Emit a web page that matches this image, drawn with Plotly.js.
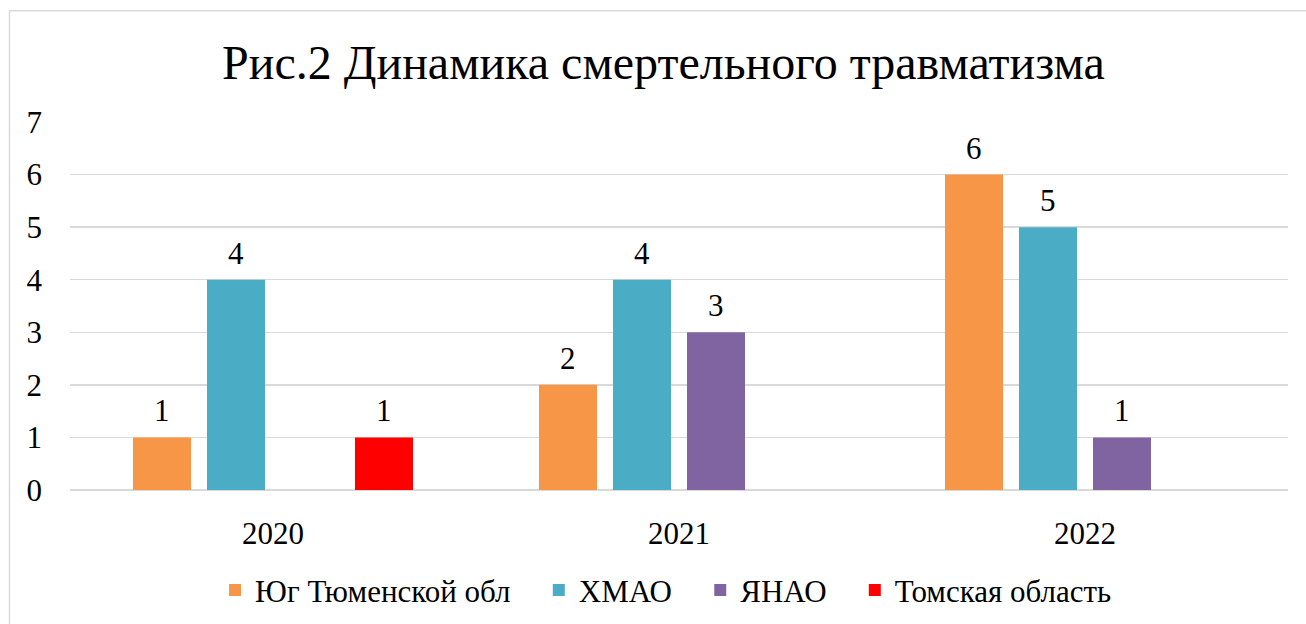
<!DOCTYPE html>
<html>
<head>
<meta charset="utf-8">
<script src="https://cdn.plot.ly/plotly-3.0.1.min.js"></script>
<style>
html,body{margin:0;padding:0;background:#fff;}
#chart{width:1306px;height:624px;}
</style>
</head>
<body>
<div id="chart"></div>
<script>
const categories = ["2020", "2021", "2022"];
const seriesNames = ["Юг Тюменской обл", "ХМАО", "ЯНАО", "Томская область"];
const yugTyumen = [1, 2, 6];
const hmao = [4, 4, 5];
const yanao = [null, 3, 1];
const tomsk = [1, null, null];
const colors = ["#F79646", "#4BACC6", "#8064A2", "#FF0000"];
const yTicks = [0, 1, 2, 3, 4, 5, 6, 7];

const FONT = "Liberation Serif";
const allValues = [yugTyumen, hmao, yanao, tomsk];
const NB = "\u00a0\u00a0\u00a0";

const traces = allValues.map((vals, i) => ({
  type: "bar",
  name: seriesNames[i] + (i < seriesNames.length - 1 ? NB : ""),
  x: categories,
  y: vals,
  marker: {color: colors[i]},
  hoverinfo: "skip"
}));

// data labels, placed from the data values, shifted to each bar's slot in the group
const slotPx = 74;
const annotations = [];
allValues.forEach((vals, i) => {
  vals.forEach((v, j) => {
    if (v === null) return;
    annotations.push({
      x: j, y: v, xref: "x", yref: "y",
      text: String(v), showarrow: false,
      xanchor: "center", yanchor: "bottom",
      xshift: (i - (allValues.length - 1) / 2) * slotPx, yshift: 7,
      font: {family: FONT, size: 31, color: "#000"}
    });
  });
});

const W = 1306, H = 624, ml = 70, mr = 18, mt = 122, mb = 133.5;
const pw = W - ml - mr, ph = H - mt - mb;
const bx = (9.5 - ml) / pw;
const by = (H - mb - 10.5) / ph;

const layout = {
  width: W, height: H,
  margin: {l: ml, r: mr, t: mt, b: mb, pad: 0},
  paper_bgcolor: "#fff", plot_bgcolor: "#fff",
  font: {family: FONT, color: "#000", size: 31},
  title: {text: "Рис.2 Динамика смертельного травматизма", font: {family: FONT, size: 48, color: "#000"}, x: 0.508, xanchor: "center", y: 0.9, yanchor: "middle"},
  barmode: "group",
  bargap: 0.271,
  bargroupgap: 0.216,
  showlegend: true,
  legend: {orientation: "h", xref: "container", yref: "container", x: 0.51, xanchor: "center", y: 0.054, yanchor: "middle", font: {family: FONT, size: 31, color: "#000"}, itemclick: false, traceorder: "normal"},
  xaxis: {type: "category", range: [-0.5, categories.length - 0.5], autorange: false, automargin: false, showgrid: false, showline: false, ticks: "", tickfont: {family: FONT, size: 31, color: "#000"}, ticklabelstandoff: 22, zeroline: false},
  yaxis: {range: [0, 7], autorange: false, automargin: false, tickvals: yTicks, showgrid: true, gridcolor: "#d9d9d9", gridwidth: 1.5, zeroline: true, zerolinecolor: "#d9d9d9", zerolinewidth: 1.5, showline: false, ticks: "", tickfont: {family: FONT, size: 31, color: "#000"}, ticklabelstandoff: 27},
  annotations: annotations,
  shapes: [
    {type: "path", xref: "paper", yref: "paper", path: `M ${bx} -0.5 L ${bx} ${by} L 1.1 ${by}`, line: {color: "#d9d9d9", width: 1.5}}
  ]
};

Plotly.newPlot("chart", traces, layout, {staticPlot: true, displayModeBar: false});
</script>
</body>
</html>
